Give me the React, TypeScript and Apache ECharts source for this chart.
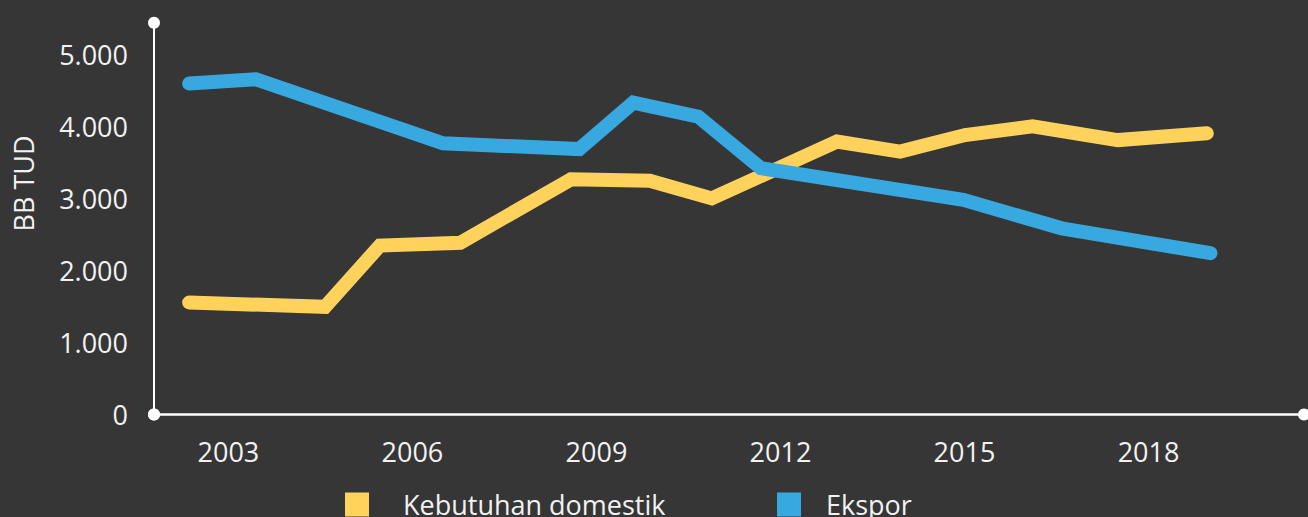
import React, { useEffect, useRef } from "react";
import * as echarts from "echarts";

// Series names
const seriesNames = ["Kebutuhan domestik", "Ekspor"];

// Domestic demand (x = position on the year scale, y = thousand BOE/day)
const domestikYears = [2002.36, 2004.575, 2005.47, 2006.78, 2008.585, 2009.87, 2010.88, 2012.92, 2013.95, 2015.01, 2016.11, 2017.5, 2018.95];
const domestikValues = [1555, 1495, 2345, 2385, 3265, 3245, 3000, 3790, 3650, 3880, 4000, 3810, 3905];

// Export
const eksporYears = [2002.36, 2003.45, 2006.5, 2008.72, 2009.6, 2010.66, 2011.68, 2014.98, 2016.585, 2019.01];
const eksporValues = [4595, 4655, 3765, 3685, 4330, 4135, 3420, 2980, 2585, 2240];

// Tick labels
const xTickYears = [2003, 2006, 2009, 2012, 2015, 2018];
const yTickValues = [0, 1000, 2000, 3000, 4000, 5000];
const yAxisTitle = "BB TUD";

const COLORS = ["#FFD35B", "#37A9E0"];
const TEXT = "#F2F2F2";
const FONT = "Open Sans";
const FS = 27;

function fmtThousands(v: number): string {
  return String(Math.round(v)).replace(/\B(?=(\d{3})+(?!\d))/g, ".");
}

export default function App() {
  const ref = useRef<HTMLDivElement>(null);

  useEffect(() => {
    document.body.style.margin = "0";
    if (!ref.current) return;
    const chart = echarts.init(ref.current, null, { renderer: "svg" });

    const pair = (xs: number[], ys: number[]) => xs.map((x, i) => [x, ys[i]]);

    const option: any = {
      animation: false,
      backgroundColor: "#363636",
      textStyle: { fontFamily: FONT },
      grid: { left: 154, right: 4, top: 22.7, bottom: 102.5, containLabel: false },
      legend: [
        {
          data: [seriesNames[0]],
          left: 345,
          top: 491,
          padding: 0,
          itemWidth: 24,
          itemHeight: 24,
          icon: "rect",
          textStyle: { color: TEXT, fontSize: FS, fontFamily: FONT, lineHeight: 22, padding: [0, 0, 0, 29] },
        },
        {
          data: [seriesNames[1]],
          left: 777,
          top: 491,
          padding: 0,
          itemWidth: 24,
          itemHeight: 24,
          icon: "rect",
          textStyle: { color: TEXT, fontSize: FS, fontFamily: FONT, lineHeight: 22, padding: [0, 0, 0, 20] },
        },
      ],
      xAxis: {
        type: "value",
        min: 2001.787,
        max: 2020.535,
        splitLine: { show: false },
        axisTick: { show: false },
        axisLine: {
          show: true,
          onZero: false,
          symbol: ["circle", "circle"],
          symbolSize: [12, 12],
          lineStyle: { color: "#FFFFFF", width: 2.5 },
        },
        axisLabel: {
          customValues: xTickYears,
          formatter: (v: number) => String(Math.round(v)),
          color: TEXT,
          fontSize: FS,
          fontFamily: FONT,
          margin: 23,
        },
      },
      yAxis: {
        type: "value",
        min: 0,
        max: 5440,
        splitLine: { show: false },
        axisTick: { show: false },
        axisLine: {
          show: true,
          symbol: ["circle", "circle"],
          symbolSize: [12, 12],
          lineStyle: { color: "#FFFFFF", width: 2 },
        },
        axisLabel: {
          customValues: yTickValues,
          formatter: (v: number) => fmtThousands(v),
          color: TEXT,
          fontSize: FS,
          fontFamily: FONT,
          margin: 26,
        },
      },
      graphic: [
        {
          type: "text",
          x: 23,
          y: 183.5,
          rotation: Math.PI / 2,
          style: {
            text: yAxisTitle,
            fill: TEXT,
            fontSize: FS,
            fontFamily: FONT,
            align: "center",
            verticalAlign: "middle",
          },
        },
      ],
      series: [
        {
          name: seriesNames[0],
          type: "line",
          data: pair(domestikYears, domestikValues),
          showSymbol: false,
          symbol: "none",
          color: COLORS[0],
          lineStyle: { width: 14, color: COLORS[0], cap: "round", join: "miter" },
          z: 2,
        },
        {
          name: seriesNames[1],
          type: "line",
          data: pair(eksporYears, eksporValues),
          showSymbol: false,
          symbol: "none",
          color: COLORS[1],
          lineStyle: { width: 14, color: COLORS[1], cap: "round", join: "miter" },
          z: 3,
        },
      ],
    };

    chart.setOption(option);
    return () => chart.dispose();
  }, []);

  return <div ref={ref} style={{ width: 1308, height: 517 }} />;
}
